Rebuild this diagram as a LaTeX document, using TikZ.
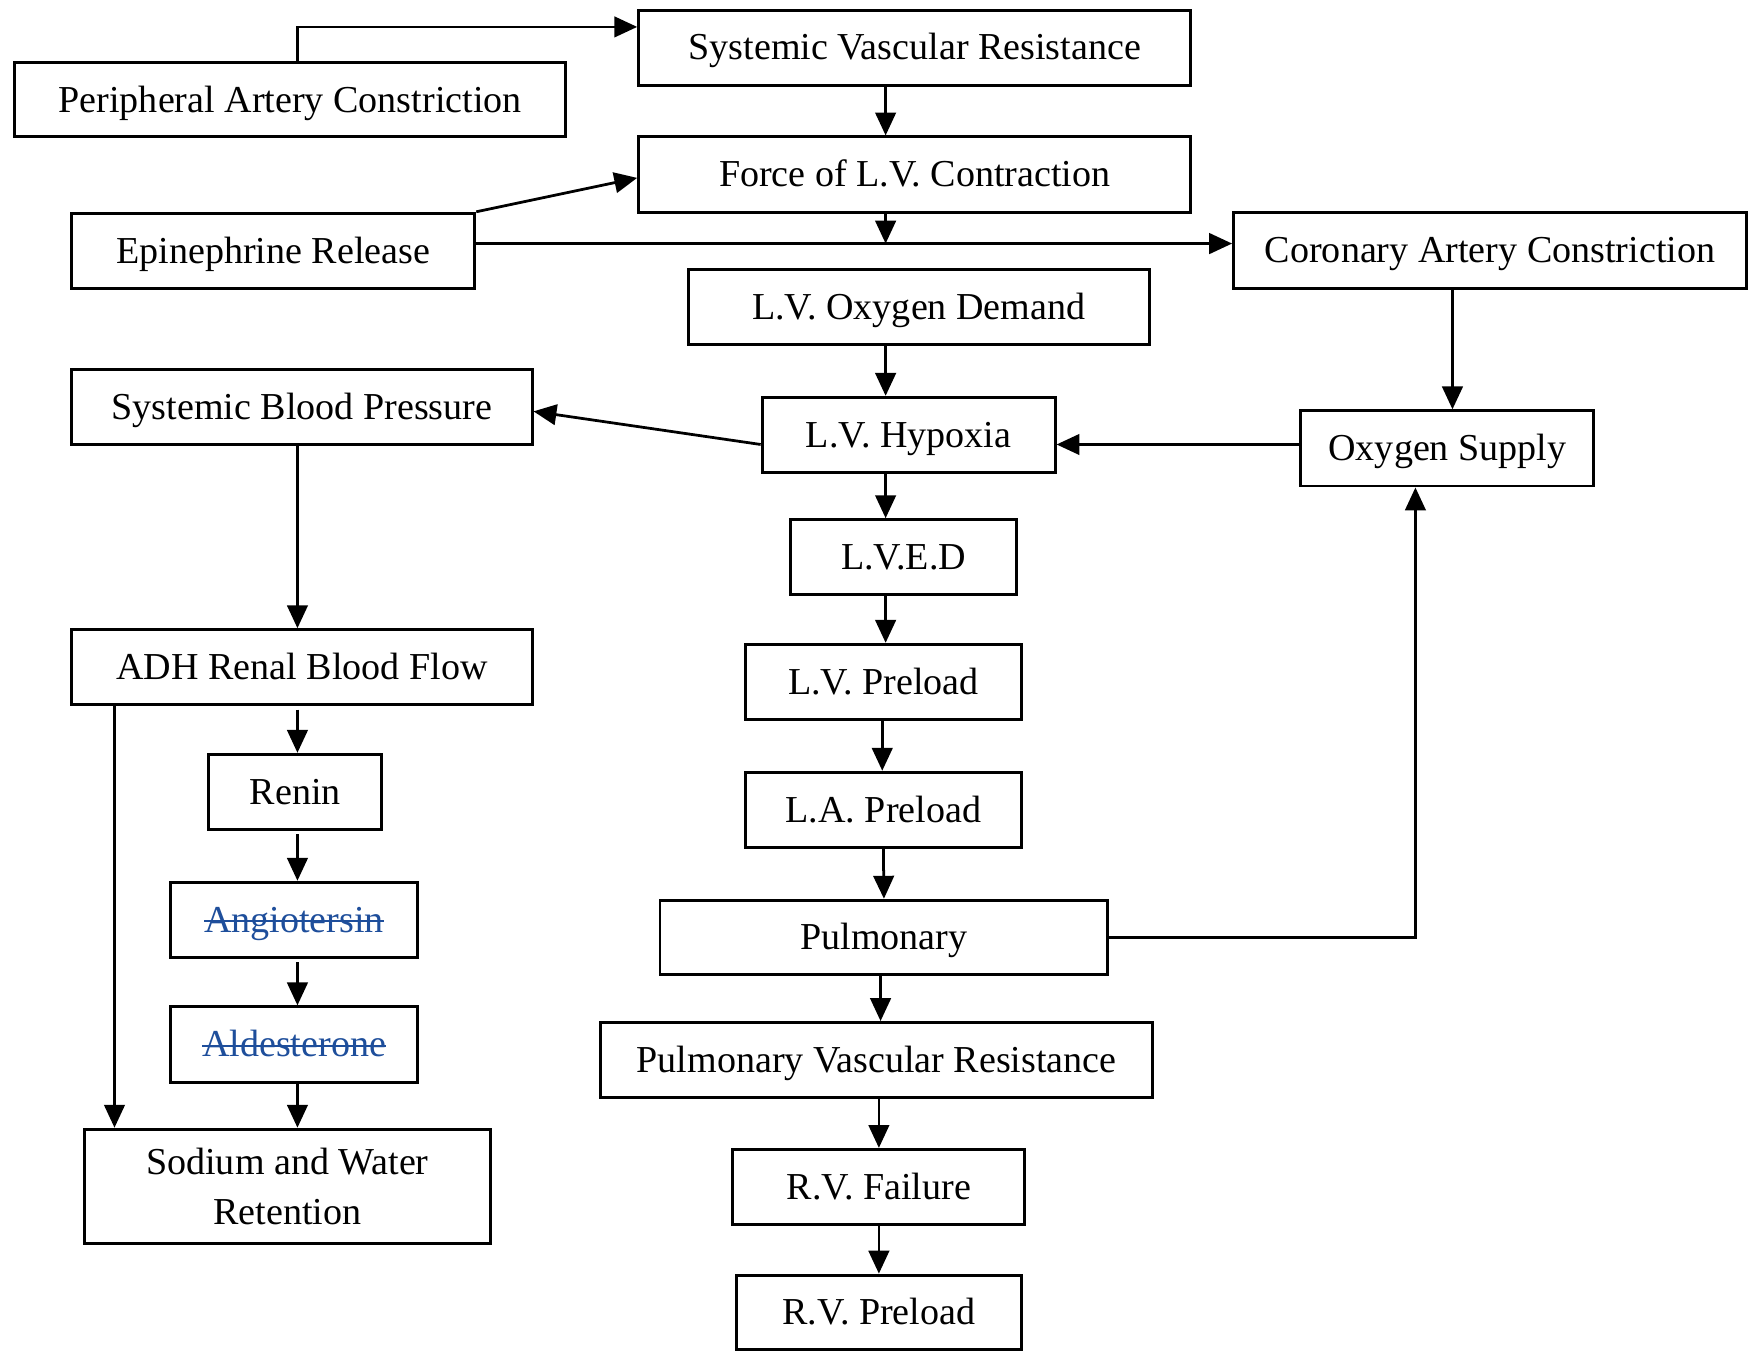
\documentclass[tikz,border=0pt]{standalone}
\usepackage{fontspec}
\setmainfont{Liberation Serif}
\usepackage{xcolor}
\usepackage{tikz}
\usetikzlibrary{
  arrows.meta,
  positioning,
  calc
}
\definecolor{strikeblue}{RGB}{30,78,155}
\newsavebox{\strkbox}
\newcommand{\strk}[1]{\sbox{\strkbox}{#1}\rlap{\usebox{\strkbox}}\rule[0.55ex]{\wd\strkbox}{0.5pt}}

\begin{document}
\begin{tikzpicture}[
    bx/.style={draw, line width=0.75pt, minimum height=0.67cm, inner sep=0pt,
      text height=8.4pt, text depth=2.2pt,
      font=\fontsize{9.65}{11.6}\selectfont, align=center},
    arr/.style={-{Triangle[length=5.8pt, width=5.2pt]}, line width=0.7pt},
    st/.style={text=strikeblue}
  ]
    \useasboundingbox (0,0) rectangle (15.68,-12.22);
    % top row
    \node[bx, minimum width=4.92cm] (svr)   at (8.15,-0.425)  {Systemic Vascular Resistance};
    \node[bx, minimum width=4.91cm, minimum height=0.66cm] (pac) at (2.585,-0.89) {Peripheral Artery Constriction};
    \node[bx, minimum width=4.92cm] (force) at (8.15,-1.555)  {Force of L.V. Contraction};
    \node[bx, minimum width=3.59cm] (epi)   at (2.435,-2.235) {Epinephrine Release};
    \node[bx, minimum width=4.57cm, minimum height=0.68cm] (cac) at (13.275,-2.23) {Coronary Artery Constriction};
    \node[bx, minimum width=4.11cm] (lvod)  at (8.185,-2.735) {L.V. Oxygen Demand};
    \node[bx, minimum width=4.10cm] (sbp)   at (2.69,-3.625)  {Systemic Blood Pressure};
    \node[bx, minimum width=2.61cm] (lvh)   at (8.095,-3.875) {L.V. Hypoxia};
    \node[bx, minimum width=2.61cm] (os)    at (12.895,-3.995) {Oxygen Supply};
    % middle column
    \node[bx, minimum width=2.02cm] (lved)  at (8.05,-4.965)  {L.V.E.D};
    \node[bx, minimum width=2.46cm] (lvp)   at (7.87,-6.075)  {L.V. Preload};
    \node[bx, minimum width=2.46cm] (lap)   at (7.87,-7.215)  {L.A. Preload};
    \node[bx, minimum width=3.99cm, minimum height=0.66cm] (pulm) at (7.875,-8.35) {Pulmonary};
    \node[bx, minimum width=4.92cm] (pvr)   at (7.81,-9.445)  {Pulmonary Vascular Resistance};
    \node[bx, minimum width=2.60cm] (rvf)   at (7.83,-10.575) {R.V. Failure};
    \node[bx, minimum width=2.54cm, minimum height=0.66cm] (rvp) at (7.83,-11.69) {R.V. Preload};
    % left column
    \node[bx, minimum width=4.10cm] (adh)   at (2.69,-5.945)  {ADH Renal Blood Flow};
    \node[bx, minimum width=1.54cm] (renin) at (2.63,-7.055)  {Renin};
    \node[bx, st, minimum width=2.20cm] (ang) at (2.62,-8.195) {\strk{Angiotersin}};
    \node[bx, st, minimum width=2.20cm] (ald) at (2.62,-9.305) {\strk{Aldesterone}};
    \node[bx, text height=, text depth=, font=\fontsize{9.65}{12.8}\selectfont,
      minimum width=3.62cm, minimum height=1.02cm] (swr) at (2.56,-10.57) {Sodium and Water\\Retention};

    \coordinate (top) at (2.65,-0.24);
    \coordinate (jn) at (7.89,-2.17);
    \coordinate (hy) at (0,-3.96);
    \coordinate (xl) at (2.65,0);
    \coordinate (xa) at (1.02,0);
    \coordinate (xc) at (12.94,0);
    \coordinate (xp) at (12.61,0);

    \draw[arr] (pac.north -| top) -- (top) -- (svr.west |- top);
    \draw[arr] (svr.south -| jn) -- (force.north -| jn);
    \draw[arr] (epi.north east) -- ([yshift=-0.3mm]force.west);
    \draw[arr] (force.south -| jn) -- (jn);
    \draw[arr] (epi.east |- jn) -- (cac.west |- jn);
    \draw[arr] (lvod.south -| jn) -- (lvh.north -| jn);
    \draw[arr] (cac.south -| xc) -- (os.north -| xc);
    \draw[arr] (os.west |- hy) -- (lvh.east |- hy);
    \draw[arr] ([yshift=-0.85mm]lvh.west) -- ([yshift=-0.4mm]sbp.east);
    \draw[arr] (lvh.south -| jn) -- (lved.north -| jn);
    \draw[arr] (lved.south -| jn) -- (lvp.north -| jn);
    \draw[arr] ([xshift=-0.1mm]lvp.south) -- ([xshift=-0.1mm]lap.north);
    \draw[arr] (lap.south) -- (pulm.north);
    \draw[arr] (pulm.east) -| (os.south -| xp);
    \draw[arr] ([xshift=-0.3mm]pulm.south) -- ([xshift=-0.3mm]pulm.south |- pvr.north);
    \draw[arr] (pvr.south -| rvf) -- (rvf.north);
    \draw[arr] (rvf.south) -- (rvp.north);
    % left branch
    \draw[arr] (sbp.south -| xl) -- (adh.north -| xl);
    \draw[arr] ([yshift=-0.3mm]adh.south -| xl) -- (renin.north -| xl);
    \draw[arr] ([yshift=-0.3mm]renin.south -| xl) -- (ang.north -| xl);
    \draw[arr] ([yshift=-0.3mm]ang.south -| xl) -- (ald.north -| xl);
    \draw[arr] (ald.south -| xl) -- (swr.north -| xl);
    \draw[arr] (adh.south -| xa) -- (swr.north -| xa);
  \end{tikzpicture}
\end{document}
